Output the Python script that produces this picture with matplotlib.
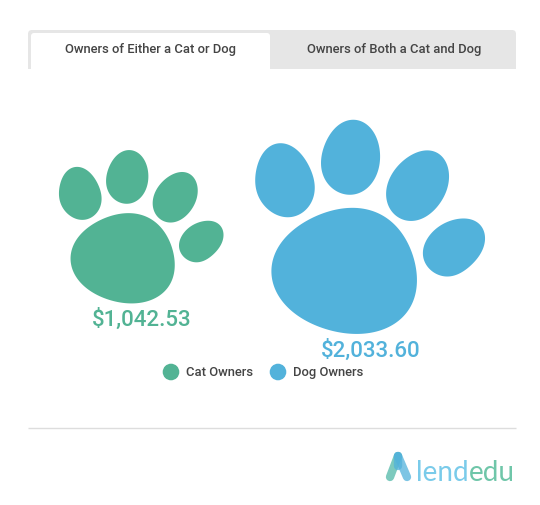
import numpy as np
import matplotlib
matplotlib.use("Agg")
import matplotlib.pyplot as plt
from matplotlib.patches import Polygon, FancyBboxPatch, Rectangle, Circle

# data
owners = ["Cat Owners", "Dog Owners"]
spending = [1042.53, 2033.60]
colors = ["#52B394", "#52B2DB"]
tabs = ["Owners of Either a Cat or Dog", "Owners of Both a Cat and Dog"]

# paw outline, traced by hand, drawn at the size of the biggest value
pad = [(335,292),(420,308),(480,360),(520,440),(533,520),(515,590),(470,640),(400,668),(335,673),
       (260,662),(180,625),(120,570),(95,510),(92,460),(115,405),(165,355),(240,310)]
toe1 = [(125,97),(165,115),(200,155),(222,205),(222,260),(195,305),(145,326),(100,312),(60,275),
        (43,225),(50,165),(80,112)]
toe2 = [(340,27),(385,45),(412,90),(422,145),(408,200),(375,243),(330,257),(285,245),(250,205),
        (240,155),(255,95),(295,42)]
toe3 = [(565,119),(605,135),(627,185),(622,240),(590,295),(550,325),(510,336),(465,320),(440,280),
        (437,235),(460,180),(510,135)]
toe4 = [(665,325),(715,335),(738,385),(720,435),(680,480),(625,503),(580,490),(550,455),(547,415),
        (575,365),(620,335)]
pawParts = [pad, toe1, toe2, toe3, toe4]

plt.rcParams['font.family'] = ['Roboto', 'DejaVu Sans']

def smoothOutline(points, harmonics=4, samples=360):
    # resample the traced points by arc length and keep only the low fourier terms
    pts = np.array(points, dtype=float) / 3.0
    closed = np.vstack([pts, pts[0]])
    dist = np.concatenate([[0], np.cumsum(np.hypot(*np.diff(closed, axis=0).T))])
    t = np.linspace(0, dist[-1], 256, endpoint=False)
    z = np.interp(t, dist, closed[:, 0]) + 1j * np.interp(t, dist, closed[:, 1])
    coef = np.fft.fft(z)
    coef[harmonics + 1:-harmonics] = 0
    full = np.zeros(samples, dtype=complex)
    full[:harmonics + 1] = coef[:harmonics + 1]
    full[-harmonics:] = coef[-harmonics:]
    out = np.fft.ifft(full) * samples / 256
    return np.column_stack([out.real, out.imag])

def drawPaw(ax, value, maxValue, cx, cy, color):
    # area follows the value
    scale = np.sqrt(value / maxValue)
    for part in pawParts:
        outline = (smoothOutline(part) - np.array([130.2, 116.7])) * scale + np.array([cx, cy])
        ax.add_patch(Polygon(outline, closed=True, facecolor=color, edgecolor='none'))

fig = plt.figure(figsize=(5.4, 5.05), dpi=100)
ax = fig.add_axes([0, 0, 1, 1])
ax.set_xlim(0, 540)
ax.set_ylim(505, 0)
ax.axis('off')

# tabs
ax.add_patch(FancyBboxPatch((28, 30), 488, 60, boxstyle="round,pad=0,rounding_size=4",
                            facecolor="#E6E6E6", edgecolor='none'))
ax.add_patch(Rectangle((0, 69), 540, 40, facecolor='white', edgecolor='none', zorder=2))
ax.add_patch(FancyBboxPatch((31, 33), 239, 50, boxstyle="round,pad=0,rounding_size=3",
                            facecolor='white', edgecolor='none', zorder=1))
ax.text(150.5, 50, tabs[0], ha='center', va='center', fontsize=9.4, fontweight='medium', color="#444444", zorder=3)
ax.text(394, 50, tabs[1], ha='center', va='center', fontsize=9.4, fontweight='medium', color="#444444", zorder=3)

# paws
maxValue = max(spending)
pawCenters = [(141.5, 226.5), (370.5, 226.5)]
labelY = [319.5, 350.5]
for i in range(len(spending)):
    cx, cy = pawCenters[i]
    drawPaw(ax, spending[i], maxValue, cx, cy, colors[i])
    ax.text(cx, labelY[i], "${:,.2f}".format(spending[i]), ha='center', va='center',
            fontsize=16, fontweight='medium', color=colors[i])

# legend
legendX = [171, 278]
for i in range(len(owners)):
    ax.add_patch(Circle((legendX[i], 372), 8.3, facecolor=colors[i], edgecolor='none'))
    ax.text(legendX[i] + 15, 372.5, owners[i], ha='left', va='center', fontsize=9.4,
            fontweight='medium', color="#444444")

# footer
ax.plot([28, 516], [428, 428], color="#DDDDDD", linewidth=1, solid_capstyle='butt')

# logo
ax.plot([398, 390], [456, 477], color="#52B9A8", alpha=0.75, linewidth=6, solid_capstyle='round')
ax.plot([398, 407], [456, 477], color="#52B2DB", alpha=0.75, linewidth=6, solid_capstyle='round')
ax.plot([398, 398], [456, 466], color="#52B2DB", alpha=0.75, linewidth=6, solid_capstyle='round')
lend = ax.text(416, 481, "lend", ha='left', va='baseline', fontsize=20, family='Lato', color="#7ACBEA")
fig.canvas.draw()
bb = lend.get_window_extent()
ax.text(bb.x1, 481, "edu", ha='left', va='baseline', fontsize=20, family='Lato', color="#6FC6A9")

fig.savefig("out.png", dpi=100)
